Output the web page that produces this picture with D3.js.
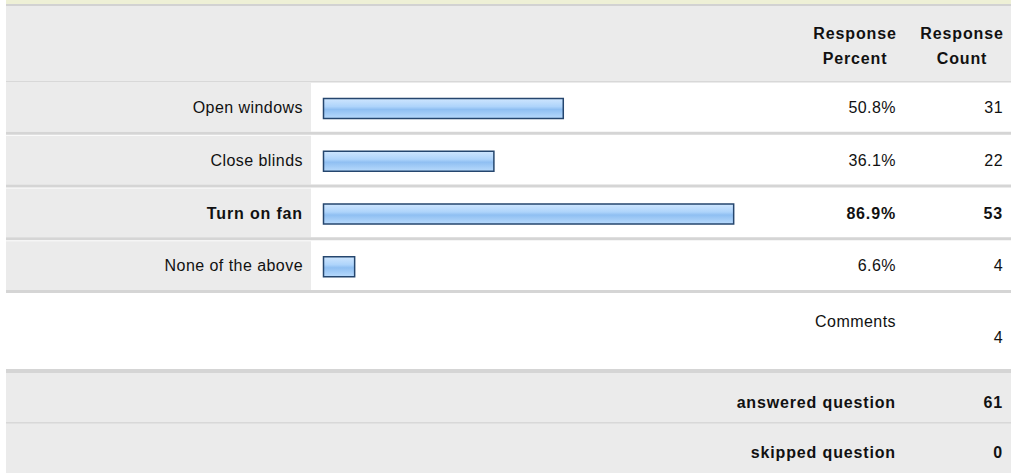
<!DOCTYPE html>
<html>
<head>
<meta charset="utf-8">
<script src="https://cdn.jsdelivr.net/npm/d3@7"></script>
<style>
  html, body { margin: 0; padding: 0; background: #fff; }
  svg { display: block; font-family: "Liberation Sans", Arial, Helvetica, sans-serif; }
  text { letter-spacing: 0.45px; }
  text.b { font-weight: bold; letter-spacing: 0.85px; }
</style>
</head>
<body>
<svg id="chart" width="1011" height="473"></svg>
<script>
// Survey answers
const categories = ["Open windows", "Close blinds", "Turn on fan", "None of the above"];
const percents = [50.8, 36.1, 86.9, 6.6];
const counts = [31, 22, 53, 4];
const headerPercent = ["Response", "Percent"];
const headerCount = ["Response", "Count"];
const commentsLabel = "Comments";
const commentsCount = 4;
const summaryLabels = ["answered question", "skipped question"];
const summaryValues = [61, 0];

const W = 1011, H = 473;
const svg = d3.select("#chart");
const left = 6;
const labelColRight = 310;
const pctRight = 896, cntRight = 1003;
const pctCenter = 855, cntCenter = 962;
const gray = "#ebebeb", border = "#d5d5d5", ink = "#111";

const defs = svg.append("defs");
const grad = defs.append("linearGradient").attr("id", "barGrad")
  .attr("x1", 0).attr("y1", 0).attr("x2", 0).attr("y2", 1);
[["0%", "#cfe6fe"], ["40%", "#aed4fb"], ["55%", "#8fbff2"], ["100%", "#b8dafc"]]
  .forEach(([o, c]) => grad.append("stop").attr("offset", o).attr("stop-color", c));

// top strip and header
svg.append("rect").attr("x", left).attr("y", 0).attr("width", W - left).attr("height", 4).attr("fill", "#eef0d6");
svg.append("rect").attr("x", left).attr("y", 4).attr("width", W - left).attr("height", 2).attr("fill", "#d2d2d2");
svg.append("rect").attr("x", left).attr("y", 6).attr("width", W - left).attr("height", 76).attr("fill", gray);
svg.append("rect").attr("x", left).attr("y", 81).attr("width", W - left).attr("height", 1.5).attr("fill", "#d8d8d8");

function headerText(lines, cx) {
  const t = svg.append("text").attr("class", "b").attr("text-anchor", "middle")
    .attr("font-size", 16).attr("fill", ink);
  lines.forEach((s, i) => t.append("tspan").attr("x", cx).attr("y", 38.5 + i * 25).text(s));
}
headerText(headerPercent, pctCenter);
headerText(headerCount, cntCenter);

// rows
const y = d3.scaleBand().domain(categories).range([82, 293]).padding(0);
const x = d3.scaleLinear().domain([0, 100]).range([323, 795]);
const maxPct = d3.max(percents);
const data = categories.map((c, i) => ({ c, p: percents[i], n: counts[i], bold: percents[i] === maxPct }));

const rows = svg.append("g").selectAll("g").data(data).join("g")
  .attr("transform", d => `translate(0,${y(d.c)})`);
const step = y.step();

rows.append("rect").attr("x", left).attr("y", 1).attr("width", labelColRight - left + 1).attr("height", step - 4).attr("fill", gray);
rows.append("rect").attr("x", left).attr("y", step - 3).attr("width", W - left).attr("height", 3).attr("fill", border);

rows.append("rect")
  .attr("x", x(0) + 0.5).attr("y", 16.5)
  .attr("width", d => x(d.p) - x(0)).attr("height", 20)
  .attr("fill", "url(#barGrad)").attr("stroke", "#25466e").attr("stroke-width", 1.5);

const baseY = 31;
function cellText(sel, xPos, fn) {
  sel.append("text").attr("x", xPos).attr("y", baseY).attr("text-anchor", "end")
    .attr("font-size", 16).attr("fill", ink).attr("class", d => d.bold ? "b" : null).text(fn);
}
cellText(rows, 303, d => d.c);
cellText(rows, pctRight, d => d.p.toFixed(1) + "%");
cellText(rows, cntRight, d => d.n);

// comments row
svg.append("text").attr("x", pctRight).attr("y", 326.5).attr("text-anchor", "end")
  .attr("font-size", 16).attr("fill", ink).text(commentsLabel);
svg.append("text").attr("x", cntRight).attr("y", 342.5).attr("text-anchor", "end")
  .attr("font-size", 16).attr("fill", ink).text(commentsCount);
svg.append("rect").attr("x", left).attr("y", 369).attr("width", W - left).attr("height", 4).attr("fill", border);

// summary rows
const sy = d3.scaleBand().domain(summaryLabels).range([373, 473]);
const srows = svg.append("g").selectAll("g").data(summaryLabels).join("g")
  .attr("transform", d => `translate(0,${sy(d)})`);
srows.append("rect").attr("x", left).attr("y", 0).attr("width", W - left).attr("height", sy.step()).attr("fill", gray);
srows.filter((d, i) => i > 0).append("rect").attr("x", left).attr("y", -1).attr("width", W - left).attr("height", 1.5).attr("fill", "#d8d8d8");
srows.append("text").attr("class", "b").attr("x", pctRight).attr("y", 34.5).attr("text-anchor", "end")
  .attr("font-size", 16).attr("fill", ink).text(d => d);
srows.append("text").attr("class", "b").attr("x", cntRight).attr("y", 34.5).attr("text-anchor", "end")
  .attr("font-size", 16).attr("fill", ink).text((d, i) => summaryValues[i]);
</script>
</body>
</html>
